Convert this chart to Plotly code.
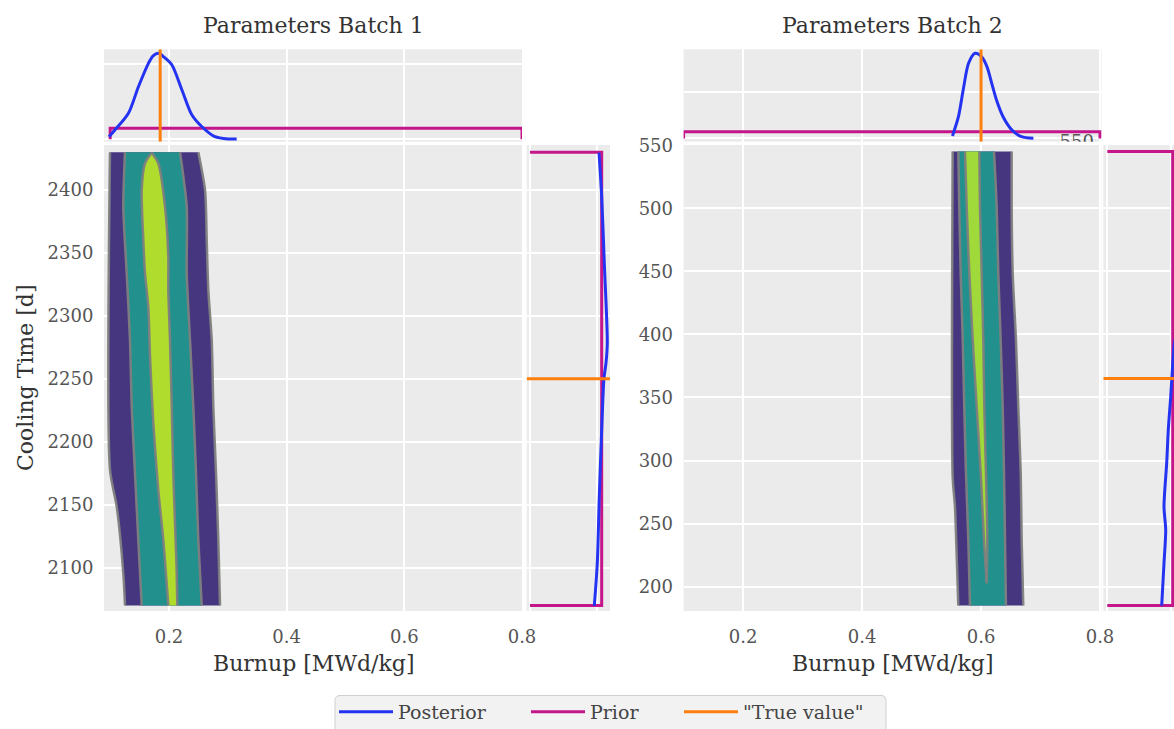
import plotly.graph_objects as go

# ---------------- data ----------------
BATCH_TITLES = ["Parameters Batch 1", "Parameters Batch 2"]
X_LABEL = "Burnup [MWd/kg]"
Y_LABEL = "Cooling Time [d]"
LEGEND_NAMES = ["Posterior", "Prior", "\"True value\""]

BU_TICKS = [0.2, 0.4, 0.6, 0.8]
B1_CT_TICKS = [2100, 2150, 2200, 2250, 2300, 2350, 2400]
B2_CT_TICKS = [200, 250, 300, 350, 400, 450, 500, 550]
BU_DENS_TICKS = [0, 10]
CT_DENS_TICKS = [0, 0.0025]

# true values
B1_TRUE_BU, B1_TRUE_CT = 0.185, 2250
B2_TRUE_BU, B2_TRUE_CT = 0.6, 365

# priors (uniform): bounds and drawn density level
B1_PRIOR_BU, B1_PRIOR_BU_DENS = [0.1, 0.8], 1.45
B1_PRIOR_CT, B1_PRIOR_CT_DENS = [2070, 2430], 0.002687
B2_PRIOR_BU, B2_PRIOR_BU_DENS = [0.1, 0.8], 1.44
B2_PRIOR_CT, B2_PRIOR_CT_DENS = [185, 545], 0.002579

# posterior marginal densities - batch 1
B1_POST_BU = [0.098, 0.108, 0.131, 0.148, 0.165, 0.173, 0.182, 0.192, 0.205, 0.222, 0.239, 0.256, 0.278, 0.301, 0.315]
B1_POST_BU_D = [0.33, 1.22, 3.45, 6.99, 10.1, 11.1, 11.44, 10.9, 9.88, 6.55, 3.22, 1.66, 0.33, 0.03, 0.03]
B1_POST_CT = [2429.6, 2394.7, 2342, 2278.5, 2262.6, 2250.7, 2209.4, 2156.4, 2103.7, 2069.6]
B1_POST_CT_D = [0.002586, 0.002687, 0.002785, 0.002897, 0.002849, 0.002774, 0.002687, 0.002597, 0.002522, 0.00241]

# posterior marginal densities - batch 2
B2_POST_BU = [0.552, 0.562, 0.570, 0.579, 0.590, 0.601, 0.610, 0.618, 0.626, 0.637, 0.652, 0.668, 0.688]
B2_POST_BU_D = [0.51, 4.65, 10.37, 16.09, 18.23, 17.5, 15.36, 11.8, 8.23, 4.65, 1.8, 0.36, 0.02]
B2_POST_CT = [545, 500, 450, 400, 390.3, 350.6, 324.2, 298.1, 263.4, 245, 218.8, 185]
B2_POST_CT_D = [0.0027, 0.0027, 0.0027, 0.0027, 0.00263, 0.0025, 0.002405, 0.002342, 0.002236, 0.002303, 0.002236, 0.002145]

# joint posterior contour boundaries - batch 1 (burnup at given cooling time)
B1_OUT_L_CT = [2430, 2177.6, 2148.5, 2095.6, 2070]
B1_OUT_L_BU = [0.0997, 0.0997, 0.1111, 0.1223, 0.1252]
B1_OUT_R_CT = [2430, 2400, 2360.3, 2320.6, 2280.9, 2227.9, 2175, 2122, 2070]
B1_OUT_R_BU = [0.2498, 0.2612, 0.2641, 0.2668, 0.2726, 0.2753, 0.2799, 0.2838, 0.2867]
B1_MID_CT = [2430, 2386.7, 2333.8, 2280.9, 2227.9, 2175, 2122, 2070]
B1_MID_L_BU = [0.1252, 0.1223, 0.1281, 0.1337, 0.1366, 0.1422, 0.1478, 0.1536]
B1_MID_R_BU = [0.2187, 0.2301, 0.2301, 0.2357, 0.2413, 0.2459, 0.2498, 0.2556]
B1_IN_L_CT = [2429.6, 2421.2, 2400, 2360.3, 2333.8, 2307.3, 2267.6, 2214.7, 2161.7, 2122, 2070]
B1_IN_L_BU = [0.1706, 0.1592, 0.1536, 0.1563, 0.1592, 0.1648, 0.1677, 0.1733, 0.1818, 0.1903, 0.1988]
B1_IN_R_CT = [2429.6, 2421.2, 2386.7, 2347, 2320.6, 2280.9, 2227.9, 2175, 2135.3, 2095.6, 2070]
B1_IN_R_BU = [0.1706, 0.1818, 0.1932, 0.1988, 0.1988, 0.2017, 0.2046, 0.2073, 0.2102, 0.2131, 0.2141]

# joint posterior contour boundaries - batch 2
B2_OUT_L_CT = [545, 287.2, 263.4, 223.8, 185]
B2_OUT_L_BU = [0.5523, 0.5523, 0.5562, 0.5591, 0.5618]
B2_OUT_R_CT = [545, 501.3, 448.5, 395.6, 342.7, 289.9, 237.0, 185]
B2_OUT_R_BU = [0.6515, 0.6515, 0.6532, 0.6587, 0.6626, 0.6667, 0.6683, 0.6710]
B2_MID_CT = [545, 501.3, 448.5, 395.6, 342.7, 289.9, 237.0, 185]
B2_MID_L_BU = [0.5618, 0.5634, 0.5658, 0.5692, 0.5718, 0.5747, 0.5786, 0.5814]
B2_MID_R_BU = [0.6218, 0.6263, 0.6290, 0.6330, 0.6364, 0.6386, 0.6403, 0.6419]
B2_IN_CT = [545, 501.3, 448.5, 395.6, 342.7, 289.9, 237.0, 202.7]
B2_IN_L_BU = [0.5730, 0.5759, 0.5803, 0.5860, 0.5927, 0.5994, 0.6050, 0.6095]
B2_IN_R_BU = [0.5971, 0.5982, 0.6011, 0.6038, 0.6055, 0.6083, 0.6105, 0.6095]

# stray tick label visible in the reference
STRAY_LABEL = "550"
STRAY_POS = (0.761, -1.09)

# ---------------- style ----------------
W, H = 1174, 729
FONT = "DejaVu Serif"
BG = "#ebebeb"
C_POST = "#2433f2"
C_PRIOR = "#c4168a"
C_TRUE = "#ff7f0e"
C_EDGE = "rgba(128,128,128,0.95)"
C_LV = ["#463680", "#22908c"]
C_TOP = ["#b0dc2e", "#a0d93a"]


def px_x(p):
    return p / W


def px_y(p):
    return 1 - p / H


MAIN_Y = [px_y(611), px_y(145)]
TOP_Y = [px_y(141.7), px_y(49.3)]
L_MAIN_X = [px_x(104), px_x(522)]
R_MAIN_X = [px_x(683.6), px_x(1101.5)]
L_SIDE_X = [px_x(526.7), px_x(610)]
R_SIDE_X = [px_x(1103.3), 1.0]

B1_BU_RANGE = [0.0895, 0.8]
B2_BU_RANGE = [0.1, 0.8025]
B1_CT_RANGE = [2065.6, 2435.7]
B2_CT_RANGE = [180.7, 550.2]
B1_TOP_RANGE = [-0.333, 11.97]
B2_TOP_RANGE = [-0.707, 19.09]
B1_SIDE_RANGE = [-0.000124, 0.0029985]
B2_SIDE_RANGE = [-0.000158, 0.00263]

fig = go.Figure()
SPL = dict(shape="spline", smoothing=0.7)


def corner(seq):
    # repeat the end points so the spline keeps sharp corners there
    seq = list(seq)
    return [seq[0]] + seq + [seq[-1]]


def add_panel(ax, levels, top, side, true_bu, true_ct,
              prior_bu, prior_bu_d, prior_ct, prior_ct_d,
              top_range, side_range, top_color, legend):
    xm, ym = "x" + ax[0], "y" + ax[0]
    xt, yt = "x" + ax[1], "y" + ax[1]
    xs, ys = "x" + ax[2], "y" + ax[2]
    colors = C_LV + [top_color]
    for (lct, lbu, rct, rbu), col in zip(levels, colors):
        xs_poly = corner(lbu) + corner(rbu)[::-1]
        ys_poly = corner(lct) + corner(rct)[::-1]
        fig.add_trace(go.Scatter(x=xs_poly, y=ys_poly,
                                 fill="toself", fillcolor=col, mode="lines",
                                 line=dict(width=0, color=col, **SPL),
                                 xaxis=xm, yaxis=ym, showlegend=False, hoverinfo="skip"))
    for (lct, lbu, rct, rbu) in levels:
        for bx, by in ((lbu, lct), (rbu, rct)):
            fig.add_trace(go.Scatter(x=bx, y=by, mode="lines",
                                     line=dict(color=C_EDGE, width=2.5, **SPL),
                                     xaxis=xm, yaxis=ym, showlegend=False, hoverinfo="skip"))

    # top marginal (burnup)
    fig.add_trace(go.Scatter(x=[prior_bu[0], prior_bu[0], prior_bu[1], prior_bu[1]],
                             y=[0, prior_bu_d, prior_bu_d, 0], mode="lines",
                             line=dict(color=C_PRIOR, width=3), name=LEGEND_NAMES[1],
                             legend="legend2", showlegend=legend, xaxis=xt, yaxis=yt))
    fig.add_trace(go.Scatter(x=top[0], y=top[1], mode="lines",
                             line=dict(color=C_POST, width=3, shape="spline", smoothing=0.8),
                             name=LEGEND_NAMES[0], legend="legend", showlegend=legend,
                             xaxis=xt, yaxis=yt))
    fig.add_trace(go.Scatter(x=[true_bu, true_bu], y=top_range, mode="lines",
                             line=dict(color=C_TRUE, width=3), name=LEGEND_NAMES[2],
                             legend="legend3", showlegend=legend, xaxis=xt, yaxis=yt))
    # side marginal (cooling time)
    fig.add_trace(go.Scatter(x=[0, prior_ct_d, prior_ct_d, 0],
                             y=[prior_ct[0], prior_ct[0], prior_ct[1], prior_ct[1]], mode="lines",
                             line=dict(color=C_PRIOR, width=3), showlegend=False,
                             xaxis=xs, yaxis=ys))
    fig.add_trace(go.Scatter(x=side[1], y=side[0], mode="lines",
                             line=dict(color=C_POST, width=3, shape="spline", smoothing=0.8),
                             showlegend=False, xaxis=xs, yaxis=ys))
    fig.add_trace(go.Scatter(x=side_range, y=[true_ct, true_ct], mode="lines",
                             line=dict(color=C_TRUE, width=3), showlegend=False,
                             xaxis=xs, yaxis=ys))


add_panel(["", "2", "3"],
          [(B1_OUT_L_CT, B1_OUT_L_BU, B1_OUT_R_CT, B1_OUT_R_BU),
           (B1_MID_CT, B1_MID_L_BU, B1_MID_CT, B1_MID_R_BU),
           (B1_IN_L_CT, B1_IN_L_BU, B1_IN_R_CT, B1_IN_R_BU)],
          (B1_POST_BU, B1_POST_BU_D), (B1_POST_CT, B1_POST_CT_D),
          B1_TRUE_BU, B1_TRUE_CT,
          B1_PRIOR_BU, B1_PRIOR_BU_DENS, B1_PRIOR_CT, B1_PRIOR_CT_DENS,
          B1_TOP_RANGE, B1_SIDE_RANGE, C_TOP[0], True)

add_panel(["4", "5", "6"],
          [(B2_OUT_L_CT, B2_OUT_L_BU, B2_OUT_R_CT, B2_OUT_R_BU),
           (B2_MID_CT, B2_MID_L_BU, B2_MID_CT, B2_MID_R_BU),
           (B2_IN_CT, B2_IN_L_BU, B2_IN_CT, B2_IN_R_BU)],
          (B2_POST_BU, B2_POST_BU_D), (B2_POST_CT, B2_POST_CT_D),
          B2_TRUE_BU, B2_TRUE_CT,
          B2_PRIOR_BU, B2_PRIOR_BU_DENS, B2_PRIOR_CT, B2_PRIOR_CT_DENS,
          B2_TOP_RANGE, B2_SIDE_RANGE, C_TOP[1], False)

# stray partially hidden tick label
fig.add_trace(go.Scatter(x=[STRAY_POS[0]], y=[STRAY_POS[1]], mode="text", text=[STRAY_LABEL],
                         textfont=dict(family=FONT, size=18, color="#555555"),
                         cliponaxis=True, showlegend=False, xaxis="x5", yaxis="y5",
                         hoverinfo="skip"))

TICKFONT = dict(family=FONT, size=18, color="#555555")
GRID = dict(showgrid=True, gridcolor="white", gridwidth=1.6, zeroline=False, showline=False,
            automargin=False)


def main_x(domain, rng, anchor):
    return dict(domain=domain, range=rng, anchor=anchor, tickvals=BU_TICKS,
                ticktext=[f"{v:.1f}" for v in BU_TICKS], tickfont=TICKFONT,
                ticks="outside", ticklen=9, tickcolor="rgba(0,0,0,0)", **GRID)


def main_y(domain, rng, anchor, ticks):
    return dict(domain=domain, range=rng, anchor=anchor, tickvals=ticks, tickfont=TICKFONT,
                ticks="outside", ticklen=6, tickcolor="rgba(0,0,0,0)", **GRID)


def hidden(domain, rng, anchor, ticks):
    return dict(domain=domain, range=rng, anchor=anchor, tickvals=ticks,
                showticklabels=False, ticks="", **GRID)


LEG_FONT = dict(family=FONT, size=19, color="#444444")


def leg(xpix):
    return dict(orientation="h", x=px_x(xpix), xanchor="left", y=px_y(712), yanchor="middle",
                font=LEG_FONT, bgcolor="rgba(0,0,0,0)", borderwidth=0, itemwidth=54)


# rounded legend frame
LX0, LX1, LY0, LY1 = px_x(335), px_x(886), px_y(745), px_y(695.5)
RX, RY = 5 / W, 5 / H
frame_path = (f"M {LX0 + RX},{LY1} L {LX1 - RX},{LY1} Q {LX1},{LY1} {LX1},{LY1 - RY} "
              f"L {LX1},{LY0} L {LX0},{LY0} L {LX0},{LY1 - RY} Q {LX0},{LY1} {LX0 + RX},{LY1} Z")

layout = dict(
    width=W, height=H, autosize=False,
    margin=dict(l=0, r=0, t=0, b=0, pad=0, autoexpand=False),
    paper_bgcolor="white", plot_bgcolor=BG,
    font=dict(family=FONT, color="#444444"),
    xaxis=main_x(L_MAIN_X, B1_BU_RANGE, "y"),
    yaxis=main_y(MAIN_Y, B1_CT_RANGE, "x", B1_CT_TICKS),
    xaxis2=hidden(L_MAIN_X, B1_BU_RANGE, "y2", BU_TICKS),
    yaxis2=hidden(TOP_Y, B1_TOP_RANGE, "x2", BU_DENS_TICKS),
    xaxis3=hidden(L_SIDE_X, B1_SIDE_RANGE, "y3", CT_DENS_TICKS),
    yaxis3=hidden(MAIN_Y, B1_CT_RANGE, "x3", B1_CT_TICKS),
    xaxis4=main_x(R_MAIN_X, B2_BU_RANGE, "y4"),
    yaxis4=main_y(MAIN_Y, B2_CT_RANGE, "x4", B2_CT_TICKS),
    xaxis5=hidden(R_MAIN_X, B2_BU_RANGE, "y5", BU_TICKS),
    yaxis5=hidden(TOP_Y, B2_TOP_RANGE, "x5", BU_DENS_TICKS),
    xaxis6=hidden(R_SIDE_X, B2_SIDE_RANGE, "y6", CT_DENS_TICKS),
    yaxis6=hidden(MAIN_Y, B2_CT_RANGE, "x6", B2_CT_TICKS),
    legend=leg(334), legend2=leg(526), legend3=leg(679),
    showlegend=True,
    shapes=[dict(type="path", path=frame_path, xref="paper", yref="paper",
                 fillcolor="#f2f2f2", line=dict(color="#cfcfcf", width=1), layer="below")],
)
fig.update_layout(**layout)

ann = []
for title, cx in zip(BATCH_TITLES, [313, 892]):
    ann.append(dict(text=title, x=px_x(cx), y=px_y(26), xref="paper", yref="paper",
                    showarrow=False, xanchor="center", yanchor="middle",
                    font=dict(family=FONT, size=22, color="#333333")))
    ann.append(dict(text=X_LABEL, x=px_x(cx), y=px_y(663), xref="paper", yref="paper",
                    showarrow=False, xanchor="center", yanchor="middle",
                    font=dict(family=FONT, size=22, color="#333333")))
ann.append(dict(text=Y_LABEL, x=px_x(25), y=px_y(378), xref="paper", yref="paper",
                showarrow=False, xanchor="center", yanchor="middle", textangle=-90,
                font=dict(family=FONT, size=22, color="#333333")))
fig.update_layout(annotations=ann)

# remove the default page margin so the 1174x729 figure fills the window exactly
fig.write_html("out.html", config={"displayModeBar": False},
               post_script="document.body.style.margin='0px';document.body.style.overflow='hidden';")
